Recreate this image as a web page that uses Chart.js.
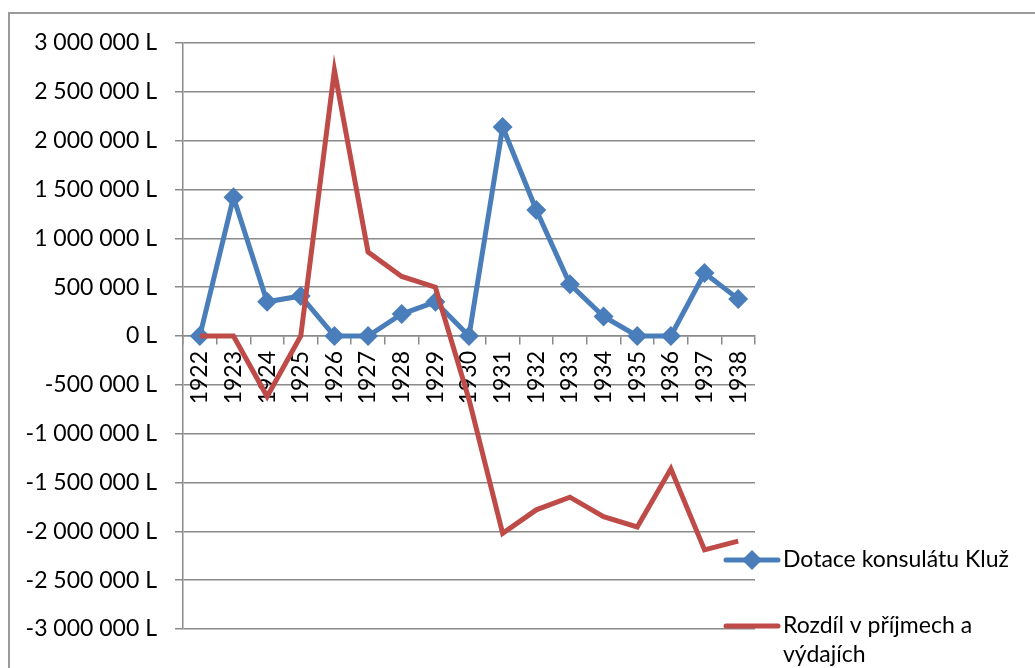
<!DOCTYPE html>
<html>
<head>
<meta charset="utf-8">
<script src="https://cdn.jsdelivr.net/npm/chart.js@4/dist/chart.umd.min.js"></script>
<style>
  html, body { margin: 0; padding: 0; background: #fff; }
  #wrap { width: 1035px; height: 668px; position: relative; }
</style>
</head>
<body>
<div id="wrap"><canvas id="myChart" width="1035" height="668"></canvas></div>
<script>
const years = ['1922', '1923', '1924', '1925', '1926', '1927', '1928', '1929', '1930',
    '1931', '1932', '1933', '1934', '1935', '1936', '1937', '1938'];

const dotace = [0, 1420000, 350000, 410000, 0, 0, 225000, 350000, 0,
    2140000, 1290000, 530000, 200000, 0, 0, 645000, 380000];

const rozdil = [0, 0, -620000, 0, 2720000, 860000, 610000, 500000, -650000,
    -2020000, -1780000, -1650000, -1850000, -1955000, -1360000, -2190000, -2100000];

const yMin = -3000000, yMax = 3000000, yStep = 500000;

const gridColor = '#8a8a8a';
const fontFamily = 'Lato, "Open Sans", sans-serif';

function formatLei(v) {
    const s = Math.abs(v).toString().replace(/\B(?=(\d{3})+(?!\d))/g, ' ');
    return (v < 0 ? '-' : '') + s + ' L';
}

// frame + legend drawn by hand (legend wraps its text like Excel)
const excelBits = {
    id: 'excelBits',
    beforeDraw(chart) {
        const ctx = chart.ctx;
        ctx.save();
        ctx.fillStyle = '#fff';
        ctx.fillRect(0, 0, chart.width, chart.height);
        ctx.strokeStyle = '#9a9a9a';
        ctx.lineWidth = 2;
        ctx.strokeRect(9, 13, 1100, 800);
        ctx.restore();
    },
    afterDraw(chart) {
        const ctx = chart.ctx;
        const rows = [560, 626];
        ctx.save();
        ctx.font = '23px ' + fontFamily;
        ctx.textBaseline = 'middle';
        chart.data.datasets.forEach((ds, i) => {
            const y = rows[i];
            ctx.strokeStyle = ds.borderColor;
            ctx.lineWidth = 5;
            ctx.lineCap = 'round';
            ctx.beginPath();
            ctx.moveTo(726, y);
            ctx.lineTo(778, y);
            ctx.stroke();
            if (ds.pointRadius > 0) {
                ctx.fillStyle = ds.borderColor;
                ctx.beginPath();
                ctx.moveTo(752, y - 10);
                ctx.lineTo(762, y);
                ctx.lineTo(752, y + 10);
                ctx.lineTo(742, y);
                ctx.closePath();
                ctx.fill();
            }
            ctx.fillStyle = '#000';
            const words = ds.label.split(' ');
            let line = '', ly = y;
            words.forEach(w => {
                const test = line ? line + ' ' + w : w;
                if (ctx.measureText(test).width > 240 && line) {
                    ctx.fillText(line, 783, ly);
                    line = w;
                    ly += 29;
                } else {
                    line = test;
                }
            });
            ctx.fillText(line, 783, ly);
        });
        ctx.restore();
    }
};

const config = {
    type: 'line',
    data: {
        labels: years,
        datasets: [{
            label: 'Dotace konsulátu Kluž',
            data: dotace,
            borderColor: '#4A7EBB',
            backgroundColor: '#4A7EBB',
            borderWidth: 5,
            pointStyle: 'rectRot',
            pointRadius: 10,
            pointBorderWidth: 0,
            pointBackgroundColor: '#4A7EBB',
            order: 2
        }, {
            label: 'Rozdíl v příjmech a výdajích',
            data: rozdil,
            borderColor: '#BE4B48',
            backgroundColor: '#BE4B48',
            borderWidth: 5,
            pointRadius: 0,
            order: 1
        }]
    },
    options: {
        responsive: false,
        animation: false,
        layout: {
            padding: { left: 0, top: 43, right: 280, bottom: 39 }
        },
        scales: {
            x: {
                position: { y: 0 },
                offset: true,
                grid: {
                    offset: true,
                    drawOnChartArea: false,
                    tickLength: 8,
                    color: gridColor,
                    lineWidth: 1.5
                },
                border: { display: true, color: gridColor, width: 1.5 },
                ticks: {
                    minRotation: 90,
                    maxRotation: 90,
                    padding: 7,
                    autoSkip: false,
                    color: '#000',
                    font: { family: fontFamily, size: 23 }
                }
            },
            y: {
                min: yMin,
                max: yMax,
                afterFit(scale) { scale.width = 183; },
                grid: {
                    color: gridColor,
                    lineWidth: 1.5,
                    tickLength: 8
                },
                border: { display: true, color: gridColor, width: 1.5 },
                ticks: {
                    stepSize: yStep,
                    padding: 18,
                    color: '#000',
                    font: { family: fontFamily, size: 23 },
                    callback: v => formatLei(v)
                }
            }
        },
        plugins: {
            legend: { display: false },
            tooltip: { enabled: false }
        }
    },
    plugins: [excelBits]
};

const myChart = new Chart(document.getElementById('myChart'), config);
</script>
</body>
</html>
